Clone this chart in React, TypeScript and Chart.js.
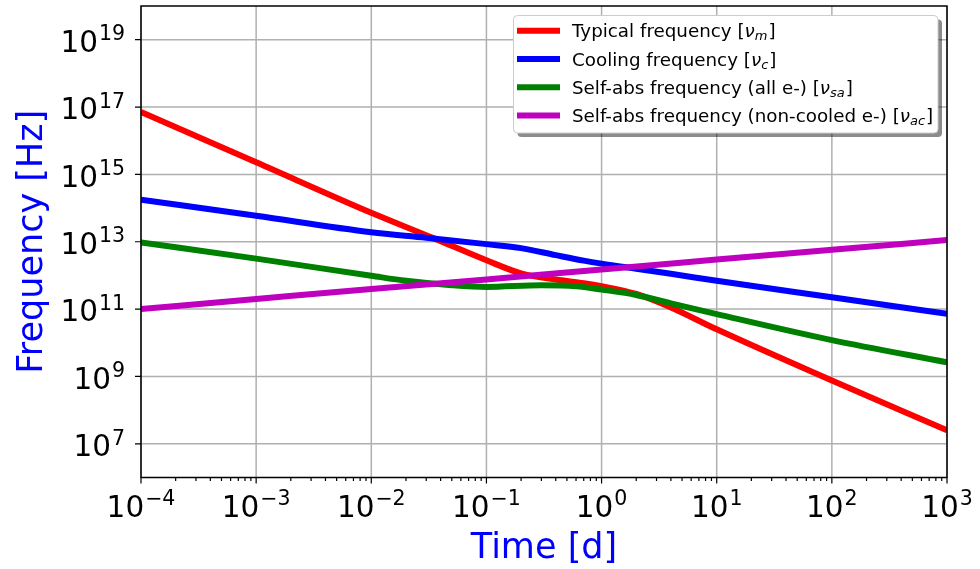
import { useEffect, useRef } from "react";
import { Chart, registerables } from "chart.js";

Chart.register(...registerables);

// Characteristic synchrotron frequencies [Hz] versus time since burst [days]
const typicalTime = [1e-4, 1e-3, 1e-2, 0.035, 0.1, 0.2, 0.4, 0.7, 1, 2, 4, 10, 100, 1000];
const typicalFreq = [7.08e16, 2.29e15, 7.24e13, 1.26e13, 2.82e12, 1.15e12, 7.59e11, 5.89e11, 4.79e11, 2.82e11, 1.12e11, 2.51e10, 7.59e8, 2.51e7];

const coolingTime = [1e-4, 1e-3, 1e-2, 0.03, 0.1, 0.2, 0.4, 0.7, 1, 2, 4, 10, 100, 1000];
const coolingFreq = [1.78e14, 5.89e13, 1.91e13, 1.32e13, 8.51e12, 6.46e12, 4.0e12, 2.75e12, 2.24e12, 1.58e12, 1.12e12, 6.92e11, 2.24e11, 7.24e10];

const selfAbsTime = [1e-4, 1e-3, 1e-2, 0.02, 0.05, 0.1, 0.3, 0.6, 1, 2, 4, 10, 100, 1000];
const selfAbsFreq = [9.55e12, 3.16e12, 9.77e11, 6.92e11, 5.13e11, 4.57e11, 5.13e11, 4.79e11, 3.8e11, 2.63e11, 1.48e11, 7.08e10, 1.2e10, 2.63e9];

const nonCooledTime = [1e-4, 1e-3, 1e-2, 0.1, 1, 10, 100, 1000];
const nonCooledFreq = [1.0e11, 2.0e11, 3.98e11, 7.59e11, 1.51e12, 2.95e12, 5.75e12, 1.12e13];

// Decade exponents that carry labels and grid lines
const xTickExponents = [-4, -3, -2, -1, 0, 1, 2, 3];
const yTickExponents = [7, 9, 11, 13, 15, 17, 19];

const seriesLabels = [
  { text: "Typical frequency [", sym: "ν", sub: "m", color: "#ff0000" },
  { text: "Cooling frequency [", sym: "ν", sub: "c", color: "#0000ff" },
  { text: "Self-abs frequency (all e-) [", sym: "ν", sub: "sa", color: "#008000" },
  { text: "Self-abs frequency (non-cooled e-) [", sym: "ν", sub: "ac", color: "#bf00bf" },
];

const FONT = '"DejaVu Sans", sans-serif';

function toPoints(xs: number[], ys: number[]) {
  return xs.map((x, i) => ({ x, y: ys[i] }));
}

function expText(e: number) {
  return e < 0 ? "\u2212" + String(-e) : String(e);
}

// "10" with a raised exponent; anchor is "right" or "center" at x
function drawPower(ctx: CanvasRenderingContext2D, e: number, x: number, baseY: number, anchor: "right" | "center") {
  const ex = expText(e);
  ctx.font = `29.5px ${FONT}`;
  const wb = ctx.measureText("10").width;
  ctx.font = `20.5px ${FONT}`;
  const we = ctx.measureText(ex).width;
  const total = wb + 1 + we;
  const start = anchor === "right" ? x - total : x - total / 2;
  ctx.textAlign = "left";
  ctx.textBaseline = "alphabetic";
  ctx.font = `29.5px ${FONT}`;
  ctx.fillText("10", start, baseY);
  ctx.font = `20.5px ${FONT}`;
  ctx.fillText(ex, start + wb + 1, baseY - 11.5);
}

function roundRect(ctx: CanvasRenderingContext2D, x: number, y: number, w: number, h: number, r: number) {
  ctx.beginPath();
  ctx.moveTo(x + r, y);
  ctx.lineTo(x + w - r, y);
  ctx.quadraticCurveTo(x + w, y, x + w, y + r);
  ctx.lineTo(x + w, y + h - r);
  ctx.quadraticCurveTo(x + w, y + h, x + w - r, y + h);
  ctx.lineTo(x + r, y + h);
  ctx.quadraticCurveTo(x, y + h, x, y + h - r);
  ctx.lineTo(x, y + r);
  ctx.quadraticCurveTo(x, y, x + r, y);
  ctx.closePath();
}

const axesDecor = {
  id: "axesDecor",
  beforeDatasetsDraw(chart: any) {
    const { ctx, chartArea: a, scales } = chart;
    ctx.save();
    ctx.strokeStyle = "#b0b0b0";
    ctx.lineWidth = 1.5;
    ctx.beginPath();
    for (const e of xTickExponents) {
      const px = scales.x.getPixelForValue(Math.pow(10, e));
      ctx.moveTo(px, a.top);
      ctx.lineTo(px, a.bottom);
    }
    for (const e of yTickExponents) {
      const py = scales.y.getPixelForValue(Math.pow(10, e));
      ctx.moveTo(a.left, py);
      ctx.lineTo(a.right, py);
    }
    ctx.stroke();
    ctx.restore();
  },
  afterDatasetsDraw(chart: any) {
    const { ctx, chartArea: a, scales } = chart;
    ctx.save();

    // frame
    ctx.strokeStyle = "#000";
    ctx.lineWidth = 1.5;
    ctx.strokeRect(a.left, a.top, a.right - a.left, a.bottom - a.top);

    // tick marks
    ctx.lineWidth = 1.2;
    ctx.beginPath();
    for (const e of xTickExponents) {
      const px = scales.x.getPixelForValue(Math.pow(10, e));
      ctx.moveTo(px, a.bottom);
      ctx.lineTo(px, a.bottom + 6);
      if (e < 3) {
        for (let m = 2; m <= 9; m++) {
          const mx = scales.x.getPixelForValue(m * Math.pow(10, e));
          ctx.moveTo(mx, a.bottom);
          ctx.lineTo(mx, a.bottom + 3.5);
        }
      }
    }
    for (const e of yTickExponents) {
      const py = scales.y.getPixelForValue(Math.pow(10, e));
      ctx.moveTo(a.left, py);
      ctx.lineTo(a.left - 6, py);
    }
    ctx.stroke();

    // tick labels
    ctx.fillStyle = "#000";
    for (const e of xTickExponents) {
      const px = scales.x.getPixelForValue(Math.pow(10, e));
      drawPower(ctx, e, px, a.bottom + 39, "center");
    }
    for (const e of yTickExponents) {
      const py = scales.y.getPixelForValue(Math.pow(10, e));
      drawPower(ctx, e, 125, py + 12.2, "right");
    }

    // axis titles
    ctx.fillStyle = "#0000ff";
    ctx.font = `35px ${FONT}`;
    ctx.textAlign = "center";
    ctx.textBaseline = "alphabetic";
    ctx.fillText("Time [d]", (a.left + a.right) / 2, 558);
    ctx.save();
    ctx.translate(42, (a.top + a.bottom) / 2);
    ctx.rotate(-Math.PI / 2);
    ctx.fillText("Frequency [Hz]", 0, 0);
    ctx.restore();

    // legend
    const L = 513.5, T = 15.5, R = 938, B = 133;
    ctx.fillStyle = "rgba(0,0,0,0.45)";
    roundRect(ctx, L + 4, T + 4, R - L, B - T, 4);
    ctx.fill();
    ctx.fillStyle = "#fff";
    roundRect(ctx, L, T, R - L, B - T, 4);
    ctx.fill();
    ctx.strokeStyle = "#cccccc";
    ctx.lineWidth = 1;
    ctx.stroke();

    seriesLabels.forEach((s, i) => {
      const cy = 30.7 + i * 28.3;
      const base = cy + 6.6;
      ctx.strokeStyle = s.color;
      ctx.lineWidth = 6;
      ctx.lineCap = "butt";
      ctx.beginPath();
      ctx.moveTo(517, cy);
      ctx.lineTo(560, cy);
      ctx.stroke();

      ctx.fillStyle = "#000";
      ctx.textAlign = "left";
      ctx.textBaseline = "alphabetic";
      let x = 572;
      ctx.font = `18.3px ${FONT}`;
      ctx.fillText(s.text, x, base);
      x += ctx.measureText(s.text).width;
      ctx.font = `italic 18.3px ${FONT}`;
      ctx.fillText(s.sym, x, base);
      x += ctx.measureText(s.sym).width;
      ctx.font = `italic 13px ${FONT}`;
      ctx.fillText(s.sub, x, base + 3);
      x += ctx.measureText(s.sub).width + 1;
      ctx.font = `18.3px ${FONT}`;
      ctx.fillText("]", x, base);
    });

    ctx.restore();
  },
};

function line(label: string, xs: number[], ys: number[], color: string, order: number) {
  return {
    label,
    data: toPoints(xs, ys),
    borderColor: color,
    backgroundColor: color,
    borderWidth: 6,
    pointRadius: 0,
    cubicInterpolationMode: "monotone" as const,
    clip: 0,
    order,
  };
}

export default function App() {
  const canvasRef = useRef<HTMLCanvasElement | null>(null);

  useEffect(() => {
    if (!canvasRef.current) return;
    const chart = new Chart(canvasRef.current, {
      type: "line",
      data: {
        datasets: [
          line("Typical frequency", typicalTime, typicalFreq, "#ff0000", 4),
          line("Cooling frequency", coolingTime, coolingFreq, "#0000ff", 3),
          line("Self-abs frequency (all e-)", selfAbsTime, selfAbsFreq, "#008000", 2),
          line("Self-abs frequency (non-cooled e-)", nonCooledTime, nonCooledFreq, "#bf00bf", 1),
        ],
      },
      options: {
        responsive: false,
        animation: false,
        events: [],
        layout: { padding: { top: 6, right: 33, left: 0, bottom: 0 } },
        plugins: { legend: { display: false }, tooltip: { enabled: false } },
        scales: {
          x: {
            type: "logarithmic",
            min: 1e-4,
            max: 1e3,
            grid: { display: false, drawTicks: false },
            border: { display: false },
            ticks: { display: false },
            afterFit: (scale: any) => {
              scale.height = 91.5;
            },
          },
          y: {
            type: "logarithmic",
            min: 1e6,
            max: 1e20,
            grid: { display: false, drawTicks: false },
            border: { display: false },
            ticks: { display: false },
            afterFit: (scale: any) => {
              scale.width = 141;
            },
          },
        },
      },
      plugins: [axesDecor],
    });
    return () => chart.destroy();
  }, []);

  return (
    <div style={{ position: "absolute", left: 0, top: 0, width: 980, height: 569, background: "#fff" }}>
      <canvas ref={canvasRef} width={980} height={569} style={{ display: "block" }} />
    </div>
  );
}
